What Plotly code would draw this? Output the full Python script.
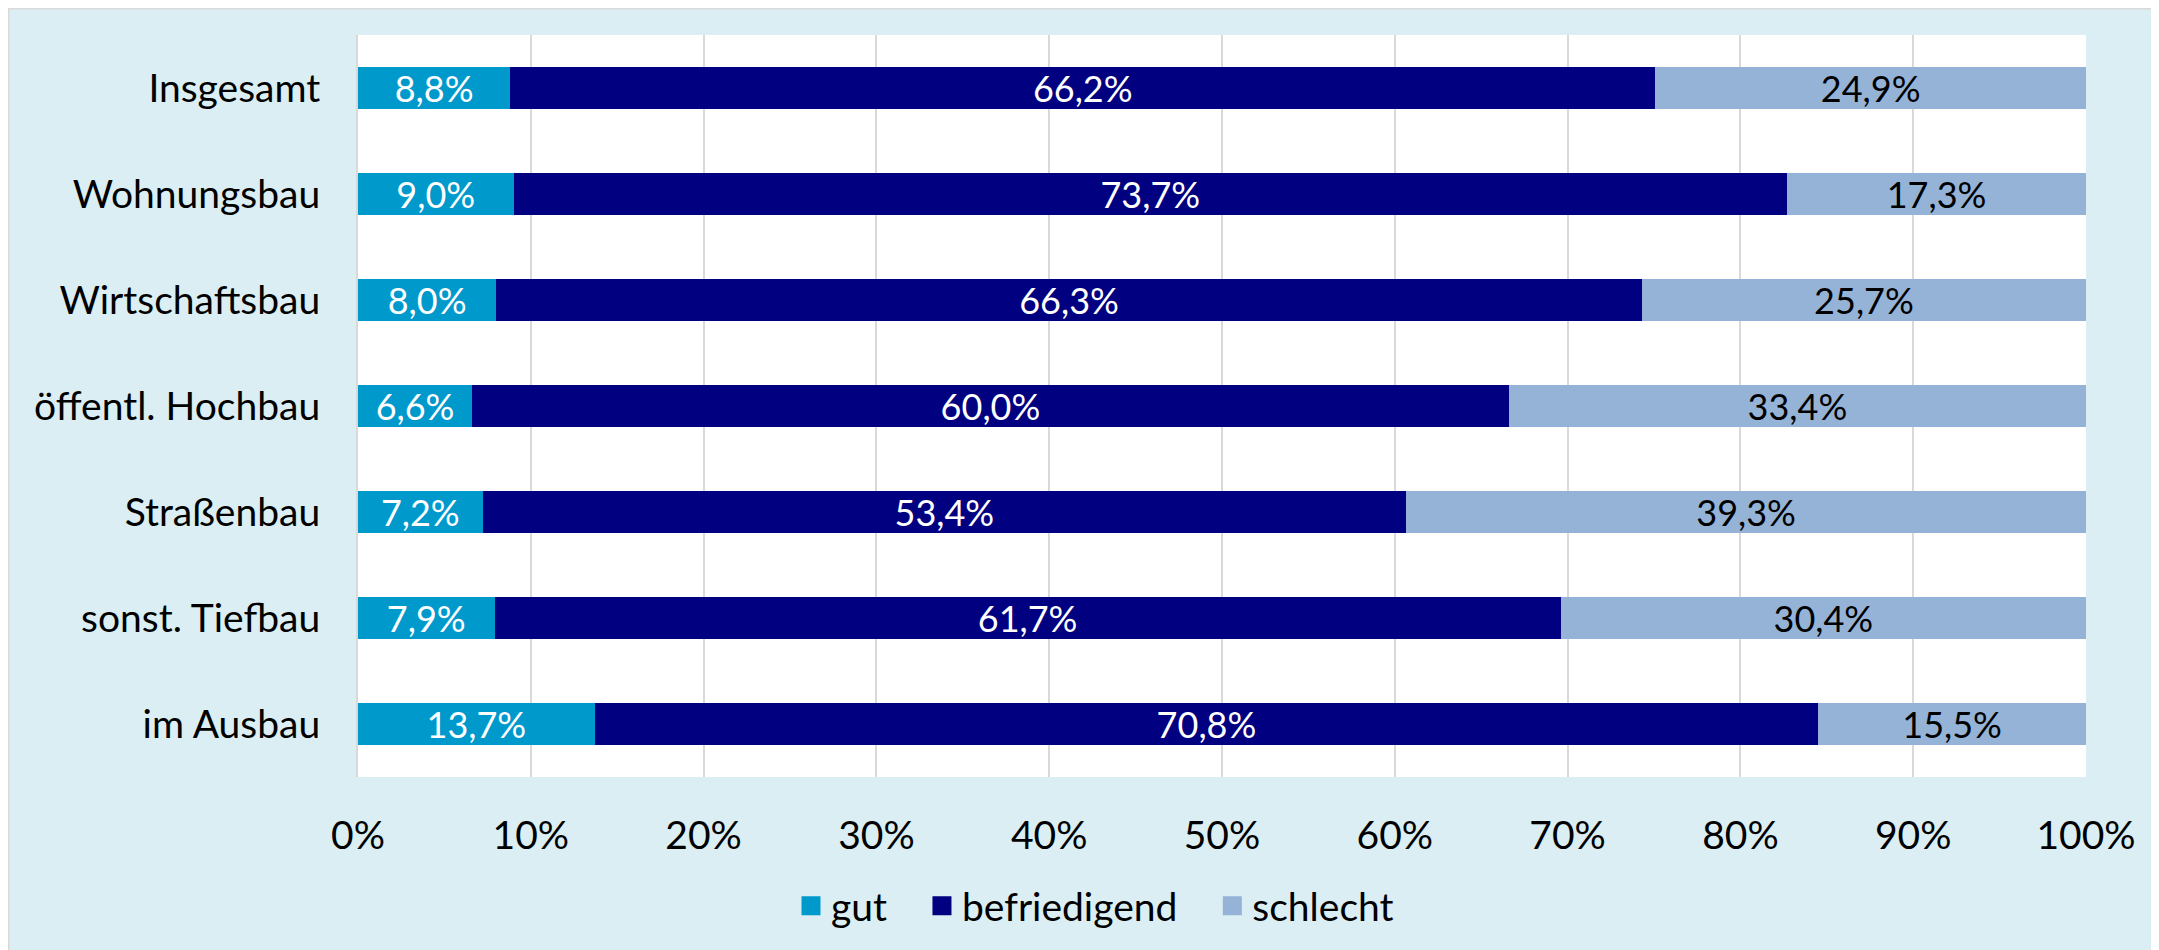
import plotly.graph_objects as go

categories = ["Insgesamt", "Wohnungsbau", "Wirtschaftsbau", "öffentl. Hochbau",
              "Straßenbau", "sonst. Tiefbau", "im Ausbau"]
gut = [8.8, 9.0, 8.0, 6.6, 7.2, 7.9, 13.7]
befriedigend = [66.2, 73.7, 66.3, 60.0, 53.4, 61.7, 70.8]
schlecht = [24.9, 17.3, 25.7, 33.4, 39.3, 30.4, 15.5]
tick_vals = [0, 10, 20, 30, 40, 50, 60, 70, 80, 90, 100]
tick_text = [f"{v}%" for v in tick_vals]

def fmt(vals):
    return [f"{v:.1f}".replace(".", ",") + "%" for v in vals]

FONT = "Lato, 'Open Sans', sans-serif"
FS_LABEL = 36
FS_AXIS = 39

series = [
    ("gut", gut, "#0099CC", "white"),
    ("befriedigend", befriedigend, "#000080", "white"),
    ("schlecht", schlecht, "#95B3D7", "black"),
]

fig = go.Figure()
for name, vals, color, tcolor in series:
    fig.add_trace(go.Bar(
        y=categories, x=vals, name=name, orientation="h",
        marker=dict(color=color, line=dict(width=0)),
        text=fmt(vals), textposition="inside", insidetextanchor="middle",
        textangle=0, constraintext="none",
        textfont=dict(color=tcolor, size=FS_LABEL, family=FONT),
        hoverinfo="skip", showlegend=False,
    ))

# legend entries (square swatches)
NBSP = "\u00a0"
for i, (name, vals, color, tcolor) in enumerate(series):
    label = name + (NBSP * 3 if i < len(series) - 1 else "")
    fig.add_trace(go.Scatter(
        x=[None], y=[None], mode="markers", name=label,
        marker=dict(symbol="square", size=16, color=color,
                    line=dict(color=color, width=3)),
        showlegend=True, hoverinfo="skip",
    ))

# page has an 8px body margin; figure coordinates are page coordinates - 8
W, H = 2151, 942
L, R, T, B = 350, 2078, 27, 769
pw, ph = R - L, B - T

def px_x(p):
    return (p - L) / pw

def px_y(p):
    return (B - p) / ph

fig.add_shape(type="rect", xref="paper", yref="paper",
              x0=px_x(0), x1=px_x(W + 10), y0=px_y(0), y1=px_y(H + 10),
              fillcolor="rgba(0,0,0,0)", line=dict(color="#D9D9D9", width=3),
              layer="below")

fig.update_layout(
    width=W, height=H,
    barmode="stack", barnorm="percent", bargap=0.6,
    paper_bgcolor="#DAEEF3", plot_bgcolor="white",
    margin=dict(l=L, r=W - R, t=T, b=H - B, pad=0),
    font=dict(family=FONT, size=FS_AXIS, color="black"),
    legend=dict(orientation="h", x=px_x(1087), xanchor="center", xref="paper",
                y=px_y(898), yanchor="middle", font=dict(size=FS_AXIS, family=FONT),
                itemwidth=30, itemsizing="trace", bgcolor="rgba(0,0,0,0)",
                traceorder="normal"),
    showlegend=True,
)
fig.update_xaxes(range=[0, 100], tickvals=tick_vals, ticktext=tick_text,
                 showgrid=True, gridcolor="#D9D9D9", gridwidth=2,
                 zeroline=False, showline=False, ticks="",
                 ticklabelstandoff=32, tickfont=dict(size=FS_AXIS, family=FONT))
fig.update_yaxes(autorange="reversed", showgrid=False, showline=True,
                 linecolor="#D9D9D9", linewidth=2, ticks="",
                 ticklabelstandoff=28, tickfont=dict(size=FS_AXIS, family=FONT))

fig.write_html("out.html")
